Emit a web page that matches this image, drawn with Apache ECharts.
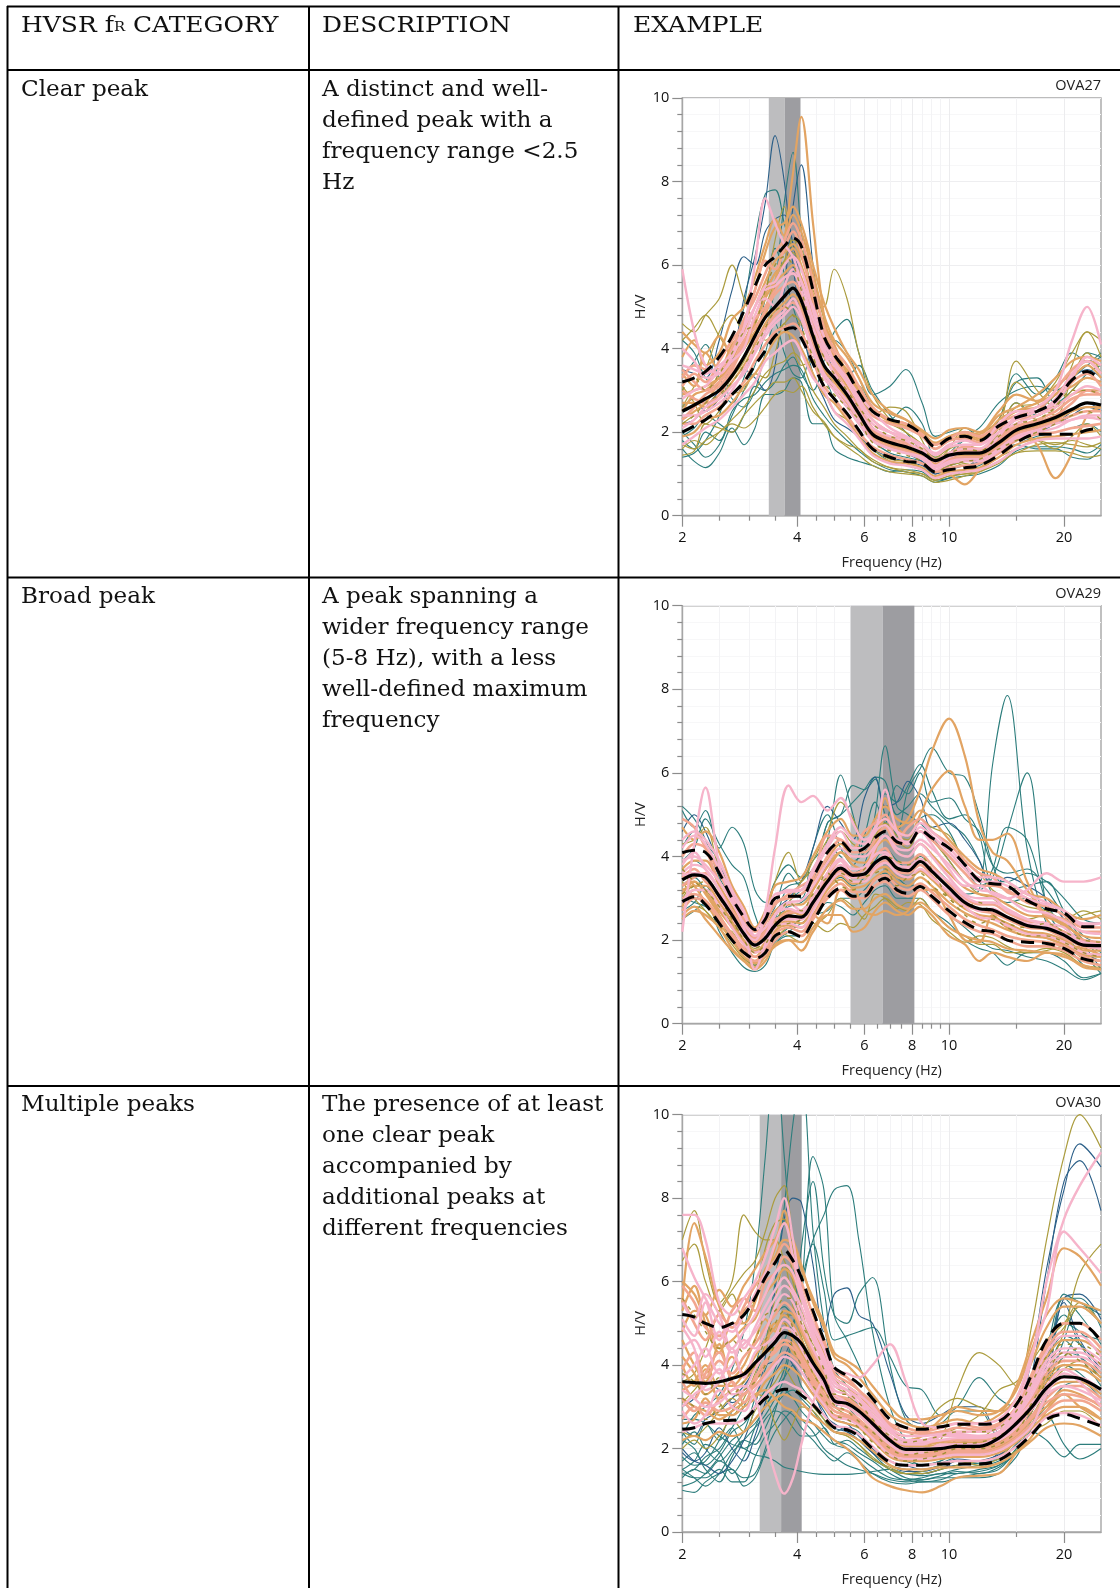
<!DOCTYPE html>
<html><head><meta charset="utf-8">
<style>html,body{margin:0;padding:0;background:#fff}#c{width:1120px;height:1588px}</style>
<script src="https://cdn.jsdelivr.net/npm/echarts@6/dist/echarts.min.js"></script>
</head><body><div id="c"></div>
<script>
const xLabelTicks=[2,4,6,8,10,20];
const xMinorTicks=[2.5,3,3.5,4.5,5,5.5,6.5,7,7.5,8.5,9,9.5,15];
const stationNames=['OVA27','OVA29','OVA30'];

// ---------- OVA27 ----------
const f1=[2,2.15,2.3,2.5,2.7,2.9,3.1,3.3,3.5,3.7,3.9,4.1,4.4,4.7,5,5.4,5.8,6.3,7,7.7,8.5,9.2,10,11,12,13.5,15,17,19,21,23,25];
const mean1=[2.5,2.65,2.8,3.0,3.35,3.8,4.3,4.75,5.0,5.25,5.45,5.15,4.3,3.6,3.3,2.9,2.45,1.95,1.75,1.65,1.5,1.32,1.45,1.5,1.5,1.75,2.05,2.2,2.35,2.55,2.7,2.65];
const upper1=[3.2,3.3,3.45,3.8,4.3,4.9,5.5,6.0,6.2,6.45,6.65,6.45,5.4,4.3,3.85,3.45,2.95,2.5,2.3,2.2,1.95,1.65,1.85,1.9,1.8,2.15,2.35,2.5,2.75,3.25,3.45,3.25];
const lower1=[2.0,2.15,2.3,2.55,2.9,3.2,3.6,3.95,4.3,4.45,4.5,4.25,3.65,3.1,2.8,2.45,2.05,1.6,1.4,1.3,1.25,1.05,1.1,1.15,1.2,1.45,1.75,1.95,1.95,1.95,2.05,2.1];
const teal1=[
[2.0,1.7,1.4,1.7,2.4,3.0,3.6,4.4,5.5,7.5,8.7,6.8,4.8,3.5,3.0,2.6,2.2,1.8,1.5,1.4,1.3,1.1,1.2,1.4,1.5,2.0,2.7,2.4,2.7,3.2,3.9,3.8],
[1.4,1.5,1.8,2.4,3.6,5.0,6.6,7.7,7.8,7.0,6.2,5.2,4.0,3.4,2.8,2.4,2.0,1.6,1.3,1.2,1.1,0.9,1.0,1.1,1.2,1.5,1.7,1.9,2.0,2.1,2.2,2.0],
[1.9,2.1,2.4,2.2,2.0,2.4,3.1,3.0,3.2,3.6,3.8,3.4,3.0,3.7,4.4,4.7,3.9,2.9,3.1,3.5,2.7,1.9,2.0,2.1,1.9,2.3,3.4,2.9,3.3,3.9,3.7,3.9],
[1.6,1.3,1.15,1.5,2.1,1.7,2.1,2.9,2.9,3.0,3.3,3.2,2.2,2.2,1.6,1.4,1.3,1.2,1.05,1.1,1.05,0.85,0.9,1.1,1.4,1.6,1.7,1.6,1.6,1.4,1.35,1.6],
[1.8,1.6,2.0,1.8,2.5,2.8,2.9,3.2,3.4,3.5,3.6,3.5,2.8,2.4,2.1,1.8,1.55,1.3,1.1,1.05,0.95,0.8,0.9,0.95,1.0,1.2,1.55,1.65,1.65,1.6,1.5,1.7],
[4.2,3.9,3.3,3.0,2.7,3.3,4.2,5.2,6.4,5.8,5.0,4.4,3.8,3.9,4.2,3.9,3.3,2.6,2.3,2.6,2.2,1.4,1.5,1.9,2.1,2.7,3.0,3.1,3.0,3.3,3.6,3.8],
[3.3,3.7,4.1,3.3,2.8,2.6,3.0,3.9,4.6,3.9,3.4,3.3,4.2,4.5,3.9,3.3,3.6,3.0,2.4,2.0,1.5,1.05,1.3,1.8,1.7,2.3,3.2,3.3,2.7,3.0,3.4,3.6]];
const blue1=[
[2.2,2.3,2.6,3.0,3.7,5.2,6.2,7.5,9.1,8.0,6.0,4.6,3.4,2.8,2.3,2.1,1.9,1.6,1.4,1.3,1.2,1.0,1.1,1.2,1.3,1.6,1.9,2.0,2.2,2.5,2.7,2.5],
[2.6,2.8,2.5,2.8,3.2,3.5,3.3,3.0,3.6,5.4,7.4,8.4,6.0,4.3,3.4,3.0,2.7,2.1,1.7,1.5,1.3,1.0,1.2,1.3,1.4,1.9,2.3,2.5,2.9,3.3,3.5,3.3],
[3.5,3.4,3.3,4.2,5.4,6.2,6.0,6.8,7.1,7.2,6.5,5.5,4.5,3.6,3.1,2.7,2.3,1.9,1.6,1.5,1.3,1.1,1.2,1.3,1.3,1.7,2.0,2.1,2.2,2.4,2.6,2.5]];
const olive1=[
[4.6,4.4,4.8,5.2,6.0,5.2,4.6,4.2,4.4,4.6,4.8,4.6,4.0,3.5,3.0,2.6,2.3,2.0,1.7,1.6,1.4,1.1,1.2,1.3,1.4,2.0,3.7,3.0,2.6,3.0,3.3,3.2],
[2.2,2.4,2.5,2.9,3.3,3.7,4.3,5.0,5.6,6.1,6.6,6.4,5.4,5.0,5.9,5.2,3.9,2.9,2.3,2.0,1.7,1.3,1.5,1.6,1.6,2.0,2.7,2.3,2.6,3.6,4.4,4.2],
[1.7,1.6,1.8,2.0,2.2,2.1,2.3,2.6,2.9,3.0,2.95,3.1,2.6,2.2,1.9,1.7,1.6,1.3,1.15,1.05,1.0,0.85,0.95,1.0,1.1,1.4,1.6,1.8,1.7,1.8,1.7,1.6],
[4.2,4.5,4.8,4.3,3.9,4.2,4.8,5.4,5.8,6.1,6.3,5.9,5.0,4.3,3.7,3.3,2.9,2.4,2.2,2.0,1.7,1.4,1.6,1.7,1.6,2.1,2.6,2.7,3.2,3.9,4.4,3.8],
[1.6,1.8,1.7,2.0,2.3,2.6,3.0,3.4,3.6,3.7,3.9,3.7,3.0,2.6,2.2,1.9,1.6,1.35,1.15,1.1,1.0,0.85,0.95,1.0,1.05,1.3,1.5,1.7,1.75,1.7,1.65,1.75],
[1.45,1.55,2.2,2.1,2.0,2.4,2.7,2.95,3.2,3.2,3.3,3.0,2.5,2.25,1.9,1.65,1.45,1.2,1.05,1.0,0.95,0.8,0.85,0.95,1.05,1.25,1.5,1.55,1.55,1.5,1.4,1.45],
[2.6,3.1,3.5,4.4,4.8,4.4,5.0,5.4,6.6,7.4,6.4,6.9,5.6,4.7,3.6,3.0,3.1,2.4,2.6,2.5,1.8,1.3,1.6,2.1,2.0,2.3,3.2,2.7,2.4,3.3,3.9,3.4],
[3.1,2.7,2.2,2.5,2.9,3.0,3.4,3.3,3.9,4.6,4.0,3.6,3.7,3.0,2.5,2.3,2.0,1.6,1.35,1.3,1.15,0.9,1.1,1.25,1.15,1.7,1.9,1.8,1.6,1.9,2.2,1.9]];
const orange1=[
[2.9,3.0,3.1,3.3,3.6,4.0,4.4,4.8,5.6,6.6,8.2,9.55,7.0,4.8,3.8,3.3,2.8,2.3,2.0,1.8,1.5,1.2,1.3,1.4,1.5,1.9,2.2,2.4,2.6,2.9,3.0,3.0],
[2.3,2.5,2.7,3.2,3.6,4.1,4.6,5.2,5.6,5.8,6.0,5.7,4.8,4.0,3.6,3.1,2.6,2.1,1.8,1.6,1.4,1.1,1.0,0.75,1.1,1.6,2.1,1.7,0.9,1.5,2.4,2.6],
[2.7,2.7,2.6,2.8,3.2,3.6,4.1,4.6,4.9,5.1,5.3,5.0,4.1,3.5,3.2,2.8,2.4,1.9,1.7,1.6,1.45,1.25,1.4,1.45,1.45,1.7,2.0,2.15,2.3,2.5,2.6,2.6],
[1.9,2.0,2.3,2.4,2.7,3.1,3.4,3.8,4.2,4.4,4.3,4.0,3.4,2.9,2.7,2.3,1.9,1.5,1.3,1.25,1.15,0.95,1.05,1.1,1.15,1.4,1.7,1.85,1.9,1.95,2.0,2.05],
[2.5,2.9,3.0,3.3,3.7,4.0,4.6,5.3,5.8,6.0,6.4,6.0,5.1,4.4,3.8,3.5,3.0,2.55,2.3,2.2,1.9,1.7,1.9,1.95,1.85,2.2,2.5,2.6,2.9,3.3,3.6,3.3],
[4.4,4.1,3.9,4.3,3.8,4.6,5.4,6.3,6.9,7.0,7.4,7.0,6.0,5.1,4.5,3.9,3.5,2.9,2.5,2.3,2.0,1.75,1.9,2.0,1.95,2.4,2.6,2.9,3.3,3.7,3.8,3.7],
[3.8,4.2,3.6,3.9,4.7,5.0,5.7,6.5,7.1,6.7,7.2,6.8,5.8,4.8,4.2,3.8,3.3,2.7,2.45,2.3,2.05,1.85,2.05,2.1,2.0,2.5,2.9,2.75,3.1,3.4,3.7,3.6],
[3.4,3.1,3.9,3.5,4.1,4.4,5.0,5.6,6.1,6.3,6.5,6.2,5.3,4.6,4.1,3.4,2.95,2.55,2.25,2.15,1.95,1.6,1.8,1.9,1.8,2.3,2.5,2.7,2.9,3.1,3.3,3.2]];
const salmon1=[
[3.1,3.4,3.2,3.7,4.2,4.6,5.4,6.1,5.9,6.4,6.8,6.3,5.2,4.2,3.9,3.3,2.8,2.4,2.2,2.1,1.9,1.6,1.8,1.85,1.75,2.1,2.3,2.4,2.7,3.2,3.4,3.1],
[2.3,2.6,2.9,3.1,3.5,4.1,4.7,5.0,5.4,5.7,5.8,5.4,4.4,3.8,3.5,3.0,2.6,2.1,1.85,1.75,1.55,1.3,1.5,1.65,1.6,1.8,2.1,2.3,2.5,2.8,2.9,2.9],
[3.5,3.2,3.0,3.2,3.6,4.2,4.5,4.9,5.3,5.5,5.6,5.3,4.6,3.9,3.4,3.0,2.6,2.05,1.8,1.7,1.6,1.35,1.5,1.55,1.55,1.85,2.15,2.25,2.4,2.7,3.0,2.9],
[2.2,2.2,2.4,2.6,2.9,3.2,3.7,4.1,4.4,4.5,4.6,4.4,3.7,3.1,2.8,2.4,2.0,1.65,1.45,1.35,1.25,1.05,1.15,1.2,1.25,1.5,1.8,1.95,2.0,2.1,2.15,2.2],
[3.0,2.8,2.7,2.9,3.4,3.8,4.2,4.5,4.8,5.0,5.1,4.9,4.2,3.4,3.1,2.7,2.3,1.85,1.65,1.55,1.4,1.2,1.35,1.4,1.4,1.65,1.95,2.1,2.25,2.4,2.5,2.5],
[3.3,3.6,3.5,3.4,4.0,4.7,5.2,5.8,6.3,6.6,7.0,6.6,5.6,4.5,4.0,3.6,3.1,2.6,2.3,2.2,1.95,1.7,1.85,2.0,1.9,2.2,2.4,2.5,3.0,3.5,3.7,3.4]];
const pink1=[
[5.9,4.4,3.6,3.4,3.8,4.5,6.0,7.6,7.0,6.5,6.2,5.6,5.0,4.3,3.7,3.3,2.9,2.5,2.1,1.9,1.6,1.3,1.5,1.6,1.6,2.0,2.3,2.5,2.7,3.3,3.8,3.6],
[3.6,3.5,3.4,3.6,3.9,4.5,5.0,5.4,5.5,5.7,5.8,5.4,4.5,3.9,3.4,3.0,2.5,2.1,1.9,1.8,1.5,1.2,1.4,1.5,1.5,1.9,2.4,2.6,3.0,4.2,5.0,4.1],
[2.8,3.0,3.1,3.5,3.9,4.3,5.0,5.5,5.6,6.0,6.2,5.9,4.9,4.0,3.6,3.2,2.7,2.2,2.0,1.9,1.7,1.45,1.65,1.7,1.7,2.0,2.2,2.4,2.6,2.9,3.1,3.0],
[2.1,2.3,2.6,2.8,3.1,3.4,3.9,4.3,4.6,4.8,5.0,4.7,3.9,3.3,3.0,2.6,2.2,1.8,1.6,1.5,1.4,1.15,1.3,1.35,1.35,1.6,1.9,2.05,2.2,2.3,2.4,2.4],
[4.0,3.7,3.3,3.4,3.7,4.0,4.8,5.2,5.0,5.5,5.9,5.6,4.7,4.1,3.7,3.2,2.8,2.3,2.0,1.85,1.7,1.5,1.7,1.8,1.7,2.2,2.5,2.5,2.8,3.4,3.7,3.4],
[2.4,2.4,2.5,2.7,3.0,3.5,4.0,4.4,4.7,4.9,5.2,4.8,4.0,3.4,3.1,2.75,2.3,1.8,1.6,1.5,1.35,1.1,1.25,1.3,1.3,1.55,1.85,2.0,2.1,2.3,2.35,2.3],
[1.7,1.9,2.1,2.3,2.6,2.9,3.2,3.7,3.9,4.1,4.2,3.9,3.3,3.0,2.5,2.2,1.85,1.45,1.25,1.2,1.1,0.9,1.0,1.05,1.1,1.3,1.6,1.8,1.85,1.85,1.85,1.9]];
const overlay1=[
[3.0,3.3,3.0,3.4,3.9,4.4,4.6,5.4,6.0,6.2,6.0,5.4,4.4,3.8,3.4,3.0,2.6,2.2,1.9,1.8,1.6,1.35,1.5,1.6,1.55,1.9,2.2,2.3,2.6,3.0,3.0,2.9],
[2.2,2.4,2.7,2.9,3.2,3.6,4.0,4.5,4.9,5.0,4.8,4.5,3.8,3.2,2.9,2.6,2.3,1.75,1.55,1.45,1.3,1.05,1.2,1.3,1.35,1.6,1.8,2.0,2.2,2.4,2.5,2.3]];
const band1=[3.37,3.71,4.08];

// ---------- OVA29 ----------
const f2=[2,2.15,2.3,2.5,2.7,2.9,3.1,3.3,3.5,3.8,4.1,4.4,4.8,5.2,5.6,6,6.4,6.8,7.3,7.8,8.4,9,10,11,12,13,14.2,16,18,20,22.5,25];
const mean2=[3.44,3.56,3.5,3.05,2.6,2.15,1.88,2.05,2.35,2.58,2.55,2.9,3.4,3.72,3.55,3.58,3.85,3.98,3.72,3.66,3.88,3.65,3.25,2.9,2.75,2.72,2.55,2.35,2.28,2.12,1.88,1.87];
const upper2=[4.09,4.15,4.1,3.6,3.0,2.55,2.25,2.5,3.0,3.05,3.05,3.5,4.1,4.35,4.1,4.2,4.45,4.6,4.35,4.3,4.63,4.45,4.2,3.8,3.42,3.35,3.3,2.95,2.75,2.65,2.32,2.32];
const lower2=[2.92,3.04,2.85,2.4,2.0,1.7,1.56,1.7,2.1,2.2,2.08,2.45,3.0,3.24,3.05,3.05,3.35,3.48,3.2,3.12,3.28,3.05,2.7,2.42,2.25,2.2,2.0,1.95,1.92,1.8,1.55,1.48];
const teal2=[
[3.0,2.9,2.8,2.5,2.0,1.6,1.4,1.6,2.0,2.3,2.5,2.9,3.3,3.5,3.3,3.5,3.9,4.2,3.9,3.7,4.0,3.8,3.4,3.1,3.2,6.2,7.85,4.2,2.4,2.0,1.4,1.3],
[3.7,3.9,3.7,3.2,2.7,2.3,2.0,2.3,2.5,2.8,2.9,3.2,3.8,4.2,3.9,4.1,4.6,4.9,4.5,4.3,4.9,5.0,4.6,3.8,3.3,3.5,4.6,6.0,2.8,2.1,1.7,1.5],
[4.2,4.6,4.3,3.9,3.2,2.7,2.3,2.6,3.0,3.3,3.4,3.9,4.2,4.0,3.6,3.8,5.0,6.65,5.2,5.0,4.8,4.5,3.9,3.4,3.2,3.7,4.7,4.4,2.9,2.3,2.0,1.7],
[5.1,4.7,5.1,4.2,4.7,4.3,3.2,2.9,3.4,3.8,3.5,3.7,4.4,5.95,5.0,4.0,4.6,5.5,5.3,5.7,6.2,5.6,4.9,5.0,4.5,3.4,3.4,3.6,3.4,3.0,2.5,2.4],
[3.3,3.5,3.2,2.8,2.3,1.9,1.3,1.7,2.2,2.9,3.2,3.5,4.8,5.0,5.7,5.6,5.85,5.0,4.6,5.6,6.1,6.6,6.0,5.9,5.0,3.8,3.2,3.3,3.4,2.7,2.1,1.9],
[2.5,2.7,2.9,2.2,1.7,1.35,1.25,1.4,1.9,2.1,2.1,2.5,2.9,2.8,2.6,2.9,3.2,3.3,3.0,3.0,3.0,2.7,2.4,2.0,1.8,1.7,1.4,1.7,1.7,1.5,1.1,1.2],
[5.2,4.9,4.4,3.5,3.0,2.5,2.0,2.4,2.8,3.6,3.3,3.4,4.8,5.0,5.3,5.6,5.9,5.8,5.0,5.2,5.5,5.2,4.8,4.5,3.9,3.1,2.9,3.0,2.7,2.4,1.7,1.2],
[3.9,4.2,4.9,4.3,3.8,3.5,2.6,2.1,2.5,3.2,3.0,4.2,5.0,4.2,3.8,4.5,5.3,4.8,5.7,5.5,6.0,5.3,5.4,4.9,4.6,3.8,3.6,3.7,3.2,2.6,2.0,1.6],
[2.7,2.9,3.3,2.6,2.1,1.6,1.4,1.6,1.95,2.2,2.4,2.6,2.7,3.0,3.0,3.2,3.5,3.6,3.5,3.3,3.3,3.0,2.6,2.3,2.0,1.8,1.75,1.6,1.5,1.3,1.05,1.2]];
const blue2=[
[4.6,5.0,4.6,3.8,3.2,2.4,1.9,2.2,2.7,3.0,3.4,4.2,5.2,4.8,4.4,5.4,5.9,5.2,5.3,5.8,5.4,4.7,4.8,4.4,3.9,3.3,3.5,3.3,3.0,2.5,1.9,1.3]];
const olive2=[
[3.0,3.3,3.2,2.8,2.4,2.0,1.8,2.4,3.4,4.1,3.4,3.9,4.6,5.3,4.9,4.4,4.5,4.8,4.4,4.2,4.6,4.4,3.9,3.4,3.1,3.0,2.7,2.5,2.6,2.4,2.6,2.7],
[2.6,2.8,2.7,2.3,1.9,1.55,1.4,1.7,2.0,2.3,2.2,2.4,2.2,2.4,2.3,2.6,2.8,3.0,2.8,2.7,3.0,2.7,2.3,2.1,1.9,1.9,1.7,1.7,1.8,1.7,1.4,1.35],
[4.3,4.4,4.7,3.7,3.3,2.6,2.0,2.25,2.6,2.9,3.4,3.7,4.4,4.6,4.3,4.2,4.5,4.8,4.5,4.4,4.9,4.7,4.5,3.9,3.6,3.2,3.0,2.8,2.7,2.5,2.7,2.5],
[3.4,3.0,2.7,2.3,2.2,1.7,1.45,1.6,2.2,2.1,1.95,2.3,2.6,3.0,2.8,2.5,3.1,3.0,2.75,2.9,2.85,2.5,2.2,1.95,2.1,2.05,1.85,1.7,1.75,1.85,1.55,1.4]];
const orange2=[
[2.8,3.2,3.2,2.7,2.3,1.9,1.6,1.9,2.4,2.7,2.6,3.2,3.9,4.3,4.0,4.0,4.3,4.9,4.7,4.9,5.6,6.5,7.3,6.4,4.8,4.1,3.9,3.2,2.6,2.4,2.0,1.8],
[3.3,3.4,3.1,2.6,2.1,1.7,1.5,1.8,2.2,2.5,2.5,3.0,3.6,4.1,3.8,3.7,4.1,5.4,4.7,4.5,5.0,5.6,6.05,5.2,4.4,4.4,4.55,3.4,2.5,2.1,1.6,1.5],
[2.5,2.7,2.6,2.3,1.8,1.5,1.3,1.5,1.9,2.0,1.75,2.2,2.6,2.6,2.2,2.3,2.7,2.9,2.7,2.6,2.8,2.6,2.1,1.9,1.5,1.7,1.6,1.5,1.7,1.6,1.4,1.3],
[3.2,3.3,3.3,2.9,2.45,2.0,1.75,1.9,2.2,2.45,2.4,2.75,3.25,3.55,3.35,3.4,3.65,3.75,3.5,3.45,3.65,3.45,3.05,2.75,2.6,2.55,2.4,2.2,2.15,2.0,1.75,1.75],
[3.7,3.9,3.9,3.3,2.8,2.35,2.05,2.25,2.7,2.85,2.85,3.2,3.75,4.1,3.9,3.85,4.2,4.4,4.1,4.0,4.3,4.05,3.6,3.25,3.1,3.05,2.85,2.6,2.55,2.35,2.1,2.05],
[3.1,3.4,3.15,2.7,2.35,1.95,1.7,1.95,2.25,2.35,2.3,2.6,3.2,3.45,3.25,3.3,3.5,3.65,3.4,3.3,3.5,3.3,2.9,2.65,2.5,2.4,2.25,2.1,2.05,1.9,1.65,1.6],
[4.7,4.4,4.6,4.1,3.3,2.8,2.3,2.7,3.3,3.4,3.5,4.0,4.6,4.9,4.5,4.5,4.9,5.2,4.9,4.8,5.1,4.9,4.4,4.0,3.7,3.6,3.4,3.1,3.0,2.7,2.5,2.6],
[2.6,2.8,2.5,2.1,1.75,1.5,1.35,1.6,1.85,2.0,1.95,2.3,2.75,2.95,2.75,2.75,3.0,3.1,2.85,2.75,2.9,2.7,2.3,2.1,2.0,1.95,1.8,1.75,1.7,1.65,1.35,1.3],
[3.6,3.3,2.9,2.4,2.0,1.6,1.45,1.75,2.3,2.6,2.7,2.6,2.4,3.2,3.2,2.7,2.6,2.7,2.6,2.7,3.2,3.2,2.6,2.0,1.95,2.6,2.3,2.2,2.05,1.9,1.8,1.65]];
const salmon2=[
[4.0,4.3,4.2,3.6,3.0,2.5,2.2,2.4,2.9,3.0,3.1,3.4,4.0,4.4,4.1,4.1,4.4,4.7,4.3,4.3,4.6,4.4,4.0,3.6,3.3,3.3,3.2,2.9,2.8,2.6,2.3,2.3],
[3.0,3.1,2.95,2.55,2.15,1.8,1.6,1.75,2.15,2.3,2.2,2.55,3.1,3.35,3.15,3.15,3.45,3.55,3.3,3.2,3.35,3.15,2.8,2.5,2.35,2.25,2.1,2.0,1.95,1.85,1.6,1.5],
[3.5,3.7,3.4,3.1,2.7,2.3,1.95,2.15,2.45,2.65,2.7,3.0,3.5,3.9,3.6,3.7,4.0,4.2,3.85,3.85,4.05,3.8,3.35,3.0,2.85,2.85,2.65,2.45,2.4,2.2,2.0,1.95],
[3.3,3.5,3.6,3.2,2.7,2.25,2.0,2.2,2.5,2.55,2.5,2.8,3.3,3.65,3.5,3.5,3.75,3.9,3.65,3.6,3.8,3.55,3.1,2.85,2.7,2.65,2.5,2.3,2.25,2.05,1.85,1.8],
[2.7,3.0,2.9,2.5,2.1,1.7,1.5,1.65,2.0,2.2,2.1,2.5,3.0,3.2,3.0,3.0,3.3,3.4,3.15,3.05,3.2,3.0,2.6,2.35,2.2,2.15,2.0,1.85,1.85,1.75,1.5,1.4],
[4.9,4.7,4.2,3.4,3.0,2.6,2.05,2.45,2.85,3.1,3.3,3.5,4.5,4.4,4.2,4.6,4.8,5.0,4.4,4.7,4.9,4.6,4.3,3.9,3.6,3.5,3.15,3.0,2.6,2.5,2.2,2.2]];
const pink2=[
[2.2,4.3,5.65,3.8,3.0,2.3,1.3,1.9,2.6,2.9,2.7,3.0,3.6,3.9,3.5,3.6,4.2,4.5,4.1,4.0,4.3,4.0,3.5,3.1,3.0,3.0,2.7,2.5,2.4,2.3,1.9,1.8],
[3.6,3.8,3.7,3.2,2.6,2.2,2.0,2.7,4.2,5.7,5.3,5.45,5.1,5.4,4.8,4.4,4.6,5.6,4.6,4.3,4.6,4.3,3.7,3.3,3.3,3.1,3.0,3.2,3.6,3.4,3.4,3.5],
[4.4,4.6,4.4,3.9,3.2,2.7,2.1,2.5,3.0,3.2,3.2,3.7,4.3,4.7,4.4,4.3,4.7,4.9,4.6,4.5,4.8,4.6,4.2,3.8,3.5,3.5,3.4,3.1,2.9,2.7,2.4,2.4],
[2.9,3.2,3.2,2.8,2.3,1.9,1.7,1.85,2.3,2.4,2.3,2.7,3.3,3.6,3.4,3.4,3.7,3.85,3.6,3.5,3.7,3.5,3.15,2.8,2.55,2.5,2.35,2.15,2.1,1.95,1.7,1.65],
[3.8,4.1,3.7,3.2,2.6,2.2,1.85,2.1,2.6,2.75,2.65,3.05,3.6,3.95,3.7,3.75,4.05,4.1,3.8,3.75,3.95,3.7,3.4,3.05,2.9,2.9,2.75,2.5,2.35,2.15,1.95,1.9],
[4.2,4.5,4.3,3.7,3.1,2.6,2.25,2.6,3.1,3.15,3.2,3.6,4.2,4.6,4.2,4.2,4.6,4.75,4.4,4.35,4.7,4.5,4.1,3.7,3.4,3.4,3.3,3.0,2.85,2.7,2.35,2.4],
[3.9,4.0,3.8,3.4,2.9,2.4,2.1,2.3,2.6,2.9,2.95,3.3,3.85,4.2,4.0,4.0,4.25,4.5,4.2,4.15,4.4,4.2,3.8,3.4,3.2,3.15,3.0,2.7,2.65,2.45,2.2,2.15],
[3.55,3.6,3.55,3.0,2.55,2.1,1.9,2.0,2.4,2.5,2.5,2.85,3.35,3.8,3.55,3.6,3.8,4.05,3.7,3.7,3.9,3.65,3.25,2.95,2.7,2.75,2.55,2.4,2.3,2.1,1.9,1.85]];
const overlay2=[
[3.7,3.4,3.2,2.8,2.4,2.1,1.8,2.0,2.4,2.9,2.7,3.1,3.5,3.6,3.4,3.7,3.9,4.0,3.9,3.8,4.0,3.7,3.0,2.8,2.9,2.6,2.4,2.3,2.4,2.2,2.0,1.95],
[3.1,3.3,3.4,3.0,2.5,2.0,1.7,1.9,2.3,2.4,2.5,2.9,3.6,3.3,3.2,3.5,3.6,3.7,3.3,3.5,3.6,3.3,3.0,2.6,2.4,2.5,2.3,2.1,2.1,1.95,1.7,1.6]];
const band2=[5.52,6.70,8.11];

// ---------- OVA30 ----------
const f3=[2,2.15,2.3,2.5,2.7,2.9,3.1,3.3,3.5,3.7,3.9,4.1,4.4,4.7,5,5.4,5.8,6.3,7,7.7,8.5,9.5,10.5,12,13.5,15,16.5,18,20,22,25];
const mean3=[3.6,3.58,3.56,3.6,3.68,3.78,4.05,4.3,4.55,4.78,4.7,4.52,4.05,3.65,3.15,3.08,2.9,2.6,2.2,1.98,1.98,2.0,2.05,2.05,2.25,2.6,3.0,3.45,3.72,3.68,3.42];
const upper3=[5.21,5.15,5.0,4.9,5.0,5.2,5.6,6.1,6.45,6.75,6.5,6.1,5.3,4.6,3.95,3.75,3.55,3.2,2.7,2.5,2.46,2.52,2.58,2.58,2.65,3.05,3.8,4.6,5.0,5.0,4.58];
const lower3=[2.46,2.5,2.6,2.66,2.68,2.7,2.95,3.2,3.35,3.42,3.4,3.28,3.05,2.75,2.5,2.45,2.3,2.0,1.67,1.6,1.6,1.63,1.63,1.63,1.72,2.0,2.35,2.7,2.82,2.72,2.54];
const teal3=[
[2.3,2.8,3.0,3.3,3.9,4.8,6.4,9.0,11.5,9,6.5,5.0,4.2,3.7,3.2,3.0,2.7,2.3,1.9,1.7,1.6,1.7,1.9,1.9,2.2,2.8,3.6,4.5,5.2,4.5,3.8],
[1.4,1.5,1.8,2.0,2.5,3.0,3.7,4.5,6.0,7.8,9.8,11,7.2,5.0,3.9,3.5,3.0,2.5,2.0,1.8,1.6,1.7,1.9,1.9,2.1,2.5,3.2,3.8,4.6,4.2,3.5],
[1.8,1.6,1.7,2.2,2.9,3.4,4.0,4.8,5.2,5.4,5.2,5.8,9.0,8.2,5.2,4.6,4.0,3.2,2.5,2.1,1.9,1.9,2.2,2.1,2.3,2.8,3.5,4.2,5.0,4.8,4.2],
[1.1,1.2,1.4,1.8,2.2,2.4,2.6,3.0,3.4,3.9,4.8,6.0,7.0,7.6,8.2,8.3,7.0,4.8,3.0,2.2,1.9,1.9,2.1,2.0,2.2,2.7,3.4,4.1,4.7,4.5,3.9],
[1.5,1.3,1.1,1.4,1.9,2.2,2.5,2.8,3.2,3.7,4.8,6.8,8.4,6.3,5.2,5.0,5.7,6.1,4.0,2.7,2.5,2.6,2.9,2.9,2.3,2.5,3.0,3.7,4.3,4.2,3.7],
[2.7,2.7,2.6,2.3,2.1,2.0,1.85,1.8,1.7,1.55,1.5,1.45,1.4,1.38,1.38,1.38,1.4,1.45,1.5,1.4,1.35,1.4,1.5,1.6,1.7,2.1,2.7,3.3,4.0,3.8,3.3],
[1.4,1.3,1.3,1.5,1.2,1.2,1.8,2.3,2.6,2.9,2.8,2.5,2.2,1.9,1.7,1.9,1.7,1.4,1.2,1.15,1.2,1.2,1.3,1.4,1.5,2.0,2.9,3.8,4.2,4.7,4.6],
[1.0,0.95,1.2,1.4,1.5,1.1,1.3,1.9,2.4,2.7,2.9,2.7,2.4,2.0,1.8,1.6,1.5,1.4,1.25,1.2,1.25,1.3,1.3,1.3,1.4,1.8,2.4,2.2,1.8,2.1,2.1],
[1.7,1.9,1.5,1.2,1.8,2.2,2.1,2.5,3.0,3.3,3.4,3.2,2.9,2.5,2.2,2.1,1.9,1.7,1.4,1.25,1.3,1.4,1.4,1.5,1.6,1.9,2.5,3.2,5.7,5.5,5.2],
[2.2,2.0,1.6,1.9,2.4,2.6,3.0,3.4,3.9,4.6,5.0,5.8,6.9,5.8,4.6,4.7,4.8,4.9,4.2,3.5,3.4,2.8,3.0,3.7,3.2,3.0,3.5,4.4,5.6,5.6,4.9],
[2.1,2.4,2.0,1.7,2.0,2.4,3.2,3.9,4.6,5.2,5.2,4.8,4.1,3.5,3.0,3.2,3.3,2.8,2.2,1.8,1.6,1.65,1.8,1.85,2.0,2.4,3.2,4.0,5.6,5.2,4.5],
[1.5,1.7,2.1,1.9,1.4,1.8,2.5,3.0,3.4,3.7,4.0,3.5,3.1,2.7,2.4,2.5,2.4,1.9,1.5,1.4,1.4,1.5,1.6,1.65,1.75,2.1,2.6,3.0,3.5,3.6,3.2],
[1.3,1.5,1.4,1.7,1.5,1.3,1.4,2.0,2.9,3.4,3.2,2.9,2.6,2.3,2.1,2.2,2.0,1.75,1.5,1.3,1.25,1.35,1.45,1.4,1.55,1.9,2.3,2.8,2.1,1.75,2.0],
[2.4,2.1,2.6,2.2,2.5,2.0,2.2,2.7,2.9,2.8,2.5,2.3,2.3,2.5,2.1,2.0,1.8,1.55,1.3,1.25,1.2,1.25,1.4,1.45,1.6,2.0,2.6,3.4,4.6,5.4,5.3]];
const blue3=[
[2.0,1.7,1.6,1.4,1.7,2.2,3.0,4.2,5.8,7.5,8.0,7.9,6.4,4.8,5.7,5.85,5.2,5.0,3.8,2.8,2.6,2.8,3.0,3.0,2.4,2.4,2.9,3.6,5.5,4.6,3.9],
[3.0,3.2,3.6,3.4,3.1,3.3,3.7,4.0,4.1,4.3,4.0,3.7,3.3,2.9,2.5,2.4,2.2,1.9,1.6,1.5,1.4,1.5,1.7,1.7,1.9,2.7,4.2,6.3,8.2,9.3,8.75],
[2.5,2.3,2.7,2.9,3.2,3.5,3.9,4.3,4.4,4.6,4.4,4.0,3.5,3.1,2.7,2.6,2.3,2.0,1.7,1.6,1.5,1.6,1.75,1.7,1.8,2.5,3.8,6.0,8.4,8.9,7.7],
[1.9,1.7,1.9,2.5,2.0,1.7,2.3,3.1,3.8,4.2,4.6,4.0,3.4,2.8,2.6,2.4,2.2,1.9,1.6,1.45,1.45,1.55,1.6,1.7,1.85,2.2,3.0,4.0,5.6,5.7,5.1]];
const olive3=[
[7.0,7.7,6.5,5.5,6.0,7.6,7.2,7.0,7.0,6.5,6.0,5.2,4.4,3.9,3.3,3.0,2.8,2.5,2.2,1.9,1.9,2.2,3.4,4.3,4.0,3.5,5.0,7.0,9.0,10.0,9.2],
[3.6,3.8,4.4,5.3,5.8,6.2,6.5,7.2,8.0,8.3,6.8,5.4,4.4,3.9,3.5,3.3,3.0,2.6,2.2,2.0,2.0,2.3,2.5,2.8,3.4,3.6,4.1,4.6,5.0,5.5,5.0],
[2.4,2.3,2.5,2.9,3.2,3.0,3.3,3.2,2.6,2.2,2.6,3.0,2.9,2.6,2.4,2.3,2.1,1.8,1.5,1.4,1.4,1.5,1.6,1.7,1.8,2.2,2.9,3.8,4.8,6.2,6.9],
[6.5,6.9,6.0,5.3,5.7,5.0,5.6,6.8,7.4,7.5,6.0,5.0,4.5,4.2,3.7,3.3,3.0,2.7,2.4,2.3,2.5,3.0,3.2,3.0,2.9,3.1,3.8,4.4,4.9,5.4,5.0],
[3.1,3.4,3.7,3.1,2.8,3.2,3.8,4.5,5.6,6.4,5.4,4.7,3.9,3.3,3.0,2.8,2.6,2.2,1.9,1.7,1.75,1.8,2.0,2.2,2.5,2.4,2.8,3.4,3.9,4.1,3.8],
[2.0,2.2,2.0,2.3,2.7,2.4,2.9,3.3,3.6,3.9,3.6,3.3,3.0,2.7,2.4,2.3,2.1,1.75,1.55,1.4,1.45,1.6,1.7,1.6,1.75,1.95,2.4,2.6,2.9,2.9,2.5]];
const orange3=[
[3.2,3.0,2.9,2.7,2.9,3.1,3.3,3.4,3.2,3.0,2.9,2.7,2.6,2.4,2.2,2.0,1.7,1.3,1.1,1.0,0.95,1.1,1.3,1.35,1.4,1.9,2.3,2.9,3.3,3.0,2.7],
[5.5,7.4,6.6,5.4,4.9,5.3,5.6,6.2,6.8,7.7,6.5,5.7,4.8,4.3,3.7,3.5,3.2,2.8,2.4,2.2,2.3,2.7,3.0,2.9,2.9,3.5,4.6,5.6,6.8,6.6,5.9],
[4.8,5.3,5.2,4.4,4.6,4.9,5.1,5.7,6.0,6.3,6.1,5.6,4.9,4.3,3.7,3.5,3.3,2.9,2.5,2.3,2.3,2.4,2.4,2.4,2.5,2.9,3.6,4.2,4.6,4.6,4.3],
[3.4,3.6,4.0,3.5,3.5,3.8,4.2,4.6,4.9,5.2,5.0,4.6,4.1,3.6,3.2,3.1,2.9,2.6,2.2,2.05,2.05,2.1,2.15,2.15,2.3,2.6,3.1,3.6,3.9,3.9,3.6],
[4.2,3.8,3.3,3.6,4.2,3.8,3.9,4.4,5.0,5.0,4.6,4.3,3.8,3.4,3.1,3.0,2.8,2.5,2.05,1.9,1.9,1.9,1.95,1.95,2.05,2.3,2.7,3.0,3.4,3.3,3.0],
[2.6,2.7,3.2,2.8,2.8,3.0,3.2,3.6,3.8,4.0,3.9,3.7,3.3,3.0,2.7,2.6,2.5,2.2,1.8,1.7,1.7,1.75,1.8,1.8,1.9,2.15,2.5,2.8,3.0,3.0,2.7],
[4.6,4.0,3.6,4.5,3.7,4.0,4.6,5.1,4.8,5.3,5.2,4.8,4.2,3.7,3.25,3.15,2.95,2.65,2.25,2.1,2.1,2.15,2.2,2.2,2.3,2.65,3.15,3.7,4.0,4.0,3.7],
[6.0,5.7,5.2,5.8,5.4,5.9,6.3,6.7,7.0,7.4,7.0,6.4,5.5,4.9,4.2,4.0,3.7,3.3,2.8,2.6,2.5,2.6,2.7,2.6,2.8,3.2,4.1,4.9,5.4,5.4,5.0],
[5.3,5.9,5.0,4.3,5.0,5.0,5.5,6.3,6.6,7.0,6.9,6.3,5.6,5.0,4.3,4.1,3.9,3.5,3.0,2.7,2.7,2.8,2.9,2.8,2.9,3.4,4.4,5.2,5.6,5.5,5.3],
[4.0,3.5,3.9,3.2,3.4,3.6,4.0,4.3,4.4,4.6,4.3,4.1,3.6,3.2,2.9,2.8,2.7,2.3,2.0,1.85,1.85,1.95,2.05,2.05,2.15,2.45,2.95,3.4,3.6,3.6,3.3],
[2.2,2.3,2.2,2.4,2.3,2.4,2.7,3.0,3.2,3.3,3.2,3.1,2.8,2.6,2.4,2.35,2.2,1.95,1.6,1.5,1.5,1.55,1.55,1.55,1.65,1.9,2.2,2.5,2.6,2.55,2.3]];
const salmon3=[
[5.6,5.0,4.6,5.2,4.9,5.4,5.9,6.2,6.5,6.9,6.6,6.0,5.2,4.5,3.9,3.7,3.4,3.1,2.6,2.5,2.4,2.5,2.6,2.5,2.6,3.0,3.8,4.5,5.0,5.0,4.6],
[3.9,4.3,3.7,4.1,3.8,4.2,4.5,4.9,5.2,5.5,5.3,4.9,4.3,3.8,3.3,3.2,3.0,2.7,2.3,2.1,2.1,2.2,2.2,2.2,2.3,2.7,3.2,3.8,4.1,4.1,3.8],
[2.7,3.0,2.8,3.2,3.6,3.1,3.6,4.0,4.4,4.6,4.5,4.2,3.7,3.3,3.0,2.9,2.7,2.4,2.0,1.9,1.9,1.95,2.0,2.0,2.1,2.4,2.8,3.2,3.5,3.5,3.2],
[3.2,2.9,3.1,2.9,3.0,3.3,3.5,3.8,4.1,4.3,4.2,4.0,3.5,3.1,2.8,2.75,2.6,2.3,1.9,1.8,1.8,1.85,1.9,1.9,2.0,2.25,2.6,2.9,3.15,3.15,2.9],
[5.9,5.5,4.9,4.7,5.3,5.6,5.3,6.0,6.2,6.6,6.4,5.8,5.0,4.6,3.8,3.6,3.4,3.0,2.55,2.4,2.35,2.4,2.5,2.45,2.55,2.95,3.7,4.4,4.8,4.8,4.4],
[3.6,3.2,3.8,4.3,3.6,3.3,3.7,4.1,4.3,4.5,4.4,4.1,3.6,3.2,2.9,2.8,2.65,2.35,1.95,1.85,1.85,1.9,1.95,1.95,2.1,2.35,2.75,3.1,3.3,3.25,3.05]];
const pink3=[
[3.4,3.2,3.0,3.1,3.4,3.5,3.2,2.3,1.4,0.92,1.3,2.1,3.1,3.6,3.3,3.1,2.9,2.5,2.1,1.9,1.9,2.1,2.1,2.1,2.3,2.7,3.1,3.5,3.9,3.7,3.4],
[7.6,7.6,7.0,5.5,5.2,5.6,6.0,6.6,7.3,8.0,7.0,5.8,5.0,4.4,3.9,3.8,3.7,4.0,4.5,3.6,2.6,2.5,2.6,2.6,2.7,3.2,4.3,5.3,7.2,6.8,6.2],
[6.8,6.1,5.6,5.0,4.8,5.2,5.7,6.2,6.9,7.4,6.6,5.7,4.8,4.2,3.6,3.4,3.2,2.8,2.3,2.1,2.1,2.3,2.4,2.4,2.5,3.0,4.2,6.0,7.5,8.3,9.1],
[4.4,4.6,4.2,4.8,4.3,4.5,4.8,5.2,5.6,5.9,5.7,5.2,4.6,4.0,3.5,3.4,3.1,2.8,2.4,2.2,2.2,2.3,2.3,2.3,2.4,2.8,3.4,4.0,4.3,4.3,4.0],
[3.0,3.3,3.5,3.9,3.3,3.4,3.9,4.3,4.6,4.9,4.8,4.4,3.9,3.5,3.1,3.0,2.8,2.5,2.1,2.0,2.0,2.0,2.1,2.1,2.2,2.5,3.0,3.4,3.7,3.7,3.4],
[5.1,4.7,5.5,4.6,5.0,4.4,4.9,5.4,5.8,6.1,5.8,5.4,4.7,4.1,3.6,3.4,3.2,2.9,2.45,2.2,2.2,2.3,2.35,2.3,2.4,2.85,3.5,4.1,4.4,4.4,4.1],
[3.7,4.0,4.4,3.8,4.0,4.6,4.4,4.8,5.4,5.7,5.5,5.0,4.4,3.9,3.4,3.3,3.1,2.75,2.3,2.15,2.15,2.2,2.25,2.25,2.35,2.75,3.3,3.9,4.2,4.2,3.9],
[2.9,2.6,2.8,3.4,3.0,2.9,3.4,3.7,4.0,4.2,4.1,3.85,3.4,3.05,2.75,2.7,2.55,2.25,1.85,1.75,1.75,1.8,1.85,1.85,1.95,2.2,2.55,3.3,3.8,3.6,3.0],
[2.4,2.5,2.6,2.6,2.6,2.7,3.0,3.3,3.5,3.6,3.5,3.4,3.1,2.8,2.55,2.5,2.35,2.05,1.7,1.6,1.6,1.65,1.7,1.7,1.8,2.05,2.4,2.75,2.85,2.8,2.55],
[5.5,5.1,5.7,5.2,4.4,4.8,5.2,5.7,6.2,6.4,6.2,5.6,4.9,4.4,3.7,3.5,3.3,3.0,2.5,2.3,2.3,2.35,2.4,2.4,2.5,2.9,3.6,4.3,4.7,4.7,4.2],
[4.9,4.4,3.4,3.6,4.4,3.7,4.3,4.5,4.7,5.1,4.9,4.5,4.0,3.6,3.2,3.1,2.9,2.55,2.15,2.0,1.95,2.05,2.1,2.1,2.2,2.55,2.95,3.3,3.5,3.4,3.15]];
const overlay3=[
[5.6,5.2,4.8,4.4,4.6,4.3,4.6,5.2,5.3,5.6,5.6,5.0,4.5,3.9,3.3,3.3,3.1,2.7,2.3,2.15,2.2,2.3,2.4,2.4,2.5,2.9,3.6,4.2,4.5,4.5,4.2],
[3.8,3.6,3.3,3.7,3.3,3.6,4.0,4.6,5.0,5.3,4.9,4.5,3.8,3.4,3.05,2.9,2.65,2.4,2.0,1.85,1.9,1.95,2.1,2.15,2.3,2.6,3.1,3.8,4.3,4.1,3.7],
[3.2,3.0,2.7,3.0,3.2,3.4,3.6,4.0,4.5,5.0,4.4,4.0,3.5,3.2,2.8,2.7,2.5,2.15,1.85,1.7,1.75,1.85,2.0,2.0,2.1,2.4,3.0,3.6,4.2,4.4,4.0]];
const band3=[3.19,3.63,4.11];

// ---------- table text ----------
const headerCol1='{a|HVSR f}{b|R}{a| CATEGORY}';
const headerCol2='DESCRIPTION';
const headerCol3='EXAMPLE';
const rowNames=['Clear peak','Broad peak','Multiple peaks'];
const rowDescriptions=[
['A distinct and well-','defined peak with a','frequency range <2.5','Hz'],
['A peak spanning a','wider frequency range','(5-8 Hz), with a less','well-defined maximum','frequency'],
['The presence of at least','one clear peak','accompanied by','additional peaks at','different frequencies']];

// ---------- assembly ----------
const sets=[
 {f:f1,mean:mean1,upper:upper1,lower:lower1,teal:teal1,blue:blue1,olive:olive1,orange:orange1,salmon:salmon1,pink:pink1,overlay:overlay1,band:band1},
 {f:f2,mean:mean2,upper:upper2,lower:lower2,teal:teal2,blue:blue2,olive:olive2,orange:orange2,salmon:salmon2,pink:pink2,overlay:overlay2,band:band2},
 {f:f3,mean:mean3,upper:upper3,lower:lower3,teal:teal3,blue:blue3,olive:olive3,orange:orange3,salmon:salmon3,pink:pink3,overlay:overlay3,band:band3}];
const layout=[{top:98,bottom:515.7},{top:605.7,bottom:1023.7},{top:1114.7,bottom:1532.7}];
const plotLeft=682.3,plotRight=1101;
const SANS='"Open Sans","Noto Sans",sans-serif', SERIF='"DejaVu Serif",serif';
const axisGray='#a6a6a6';
const grids=[],xAxes=[],yAxes=[],series=[];
sets.forEach((s,i)=>{
  grids.push({left:plotLeft,width:plotRight-plotLeft,top:layout[i].top,height:layout[i].bottom-layout[i].top,show:true,borderColor:axisGray,borderWidth:1.4,backgroundColor:'#fff'});
  const common={type:'log',logBase:10,min:2,max:25,gridIndex:i};
  xAxes.push({...common,name:'Frequency (Hz)',nameLocation:'middle',nameGap:40,nameTextStyle:{color:'#222',fontFamily:SANS,fontSize:14.5},
    axisLine:{onZero:false,lineStyle:{color:axisGray,width:1.4}},
    axisTick:{show:true,length:11,customValues:xLabelTicks,lineStyle:{color:'#8c8c8c',width:1.2}},
    axisLabel:{show:true,customValues:xLabelTicks,formatter:v=>String(Math.round(v)),margin:15,color:'#111',fontFamily:SANS,fontSize:14.5,hideOverlap:false,showMinLabel:true,showMaxLabel:true},
    splitLine:{show:true,lineStyle:{color:'#ececee',width:1}},minorTick:{show:false},minorSplitLine:{show:false}});
  xAxes.push({...common,position:'bottom',axisLine:{show:false,onZero:false},
    axisTick:{show:true,length:5,customValues:xMinorTicks,lineStyle:{color:'#8c8c8c',width:1.2}},
    axisLabel:{show:false},splitLine:{show:true,lineStyle:{color:'#f3f3f5',width:1}},minorTick:{show:false},minorSplitLine:{show:false}});
  yAxes.push({type:'value',gridIndex:i,min:0,max:10,interval:2,name:'H/V',nameLocation:'middle',nameGap:26,nameRotate:90,nameTextStyle:{color:'#222',fontFamily:SANS,fontSize:14.5},
    axisLine:{show:true,onZero:false,lineStyle:{color:axisGray,width:1.4}},
    axisTick:{show:true,length:10,lineStyle:{color:'#8c8c8c',width:1.2}},
    minorTick:{show:true,splitNumber:5,length:5,lineStyle:{color:'#8c8c8c',width:1.2}},
    axisLabel:{margin:13,color:'#111',fontFamily:SANS,fontSize:14.5},
    splitLine:{show:true,lineStyle:{color:'#eeeef0',width:1}},minorSplitLine:{show:true,lineStyle:{color:'#f7f7f8',width:1}}});
  const xi=i*2;
  series.push({type:'line',xAxisIndex:xi,yAxisIndex:i,data:[],silent:true,z:1,
    markArea:{silent:true,itemStyle:{color:'#bdbdbf'},data:[[{xAxis:s.band[0]},{xAxis:s.band[1]}]]}});
  series.push({type:'line',xAxisIndex:xi,yAxisIndex:i,data:[],silent:true,z:1,
    markArea:{silent:true,itemStyle:{color:'#9d9da1'},data:[[{xAxis:s.band[1]},{xAxis:s.band[2]}]]}});
  const add=(arr,color,w,z,extra)=>arr.forEach(v=>series.push({type:'line',xAxisIndex:xi,yAxisIndex:i,
     data:v.map((y,k)=>[s.f[k],y]),smooth:0.35,symbol:'none',silent:true,clip:true,z,
     lineStyle:{color,width:w,...(extra||{})}}));
  add(s.teal,'#2c7d7c',1.1,3);
  add(s.blue,'#2b5f88',1.1,3);
  add(s.olive,'#ab9c3e',1.2,4);
  add(s.orange,'#e2a463',2.2,5);
  add(s.salmon,'#f2a68f',2.6,6);
  add(s.pink,'#f6b4ca',2.4,7);
  add(s.overlay,'#a08f35',1.4,8,{type:[4,6]});
  add([s.upper,s.lower],'#000',3,9,{type:[13,8]});
  add([s.mean],'#000',3.2,10);
});
const graphic=[];
const line=(x1,y1,x2,y2)=>graphic.push({type:'line',shape:{x1,y1,x2,y2},style:{stroke:'#000',lineWidth:2},z:20,silent:true});
[6.5,70,577.5,1086].forEach(y=>line(7,y,1120,y));
[7.5,309,618.5].forEach(x=>line(x,6,x,1588));
const txt=(x,y,text,sx,extra)=>graphic.push({type:'text',x,y,scaleX:sx,z:20,silent:true,style:{text,fill:'#111',font:'22px '+SERIF,textVerticalAlign:'middle',verticalAlign:'middle',...(extra||{})}});
const headScale=1.135,bodyScale=1.05;
txt(21,26.5,headerCol1,headScale,{rich:{a:{font:'22px '+SERIF,fill:'#111'},b:{font:'13px '+SERIF,fill:'#111',padding:[3,0,0,0]}}});
txt(322,26.5,headerCol2,headScale);
txt(633,26.5,headerCol3,headScale);
const rowY=[90,597.5,1105.5];
rowNames.forEach((n,i)=>{
  txt(21,rowY[i],n,bodyScale);
  rowDescriptions[i].forEach((d,k)=>txt(322,rowY[i]+k*31,d,bodyScale));
  graphic.push({type:'text',x:plotRight,y:layout[i].top-12,z:20,silent:true,style:{text:stationNames[i],fill:'#222',font:'14.5px '+SANS,textAlign:'right',textVerticalAlign:'middle',verticalAlign:'middle'}});
});
const chart=echarts.init(document.getElementById('c'),null,{renderer:'canvas'});
chart.setOption({animation:false,backgroundColor:'#fff',grid:grids,xAxis:xAxes,yAxis:yAxes,series,graphic,tooltip:{show:false},legend:{show:false}});
</script></body></html>
